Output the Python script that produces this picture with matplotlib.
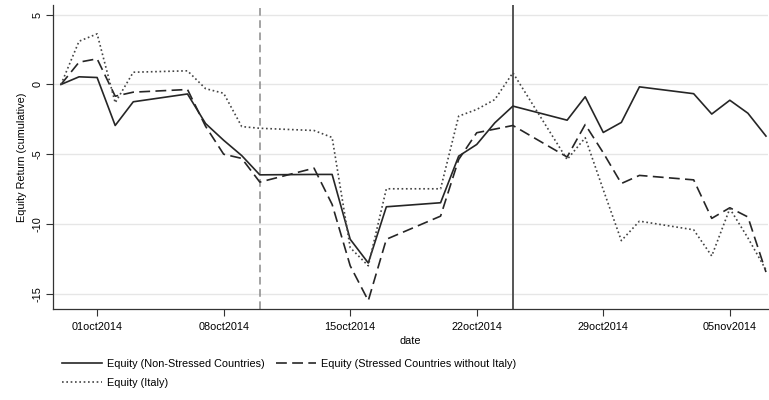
import matplotlib
matplotlib.use("Agg")
import matplotlib.pyplot as plt
import pandas as pd
import numpy as np

plt.rcParams['font.family'] = ['Liberation Sans', 'DejaVu Sans']

dates = ["2014-09-29", "2014-09-30", "2014-10-01", "2014-10-02", "2014-10-03",
         "2014-10-06", "2014-10-07", "2014-10-08", "2014-10-09", "2014-10-10",
         "2014-10-13", "2014-10-14", "2014-10-15", "2014-10-16", "2014-10-17",
         "2014-10-20", "2014-10-21", "2014-10-22", "2014-10-23", "2014-10-24",
         "2014-10-27", "2014-10-28", "2014-10-29", "2014-10-30", "2014-10-31",
         "2014-11-03", "2014-11-04", "2014-11-05", "2014-11-06", "2014-11-07"]

non_stressed = [0.0, 0.55, 0.5, -2.94, -1.24,
                -0.68, -2.8, -4.0, -5.1, -6.48,
                -6.45, -6.45, -11.1, -12.8, -8.77,
                -8.48, -5.14, -4.3, -2.75, -1.55,
                -2.56, -0.88, -3.44, -2.72, -0.17,
                -0.66, -2.12, -1.13, -2.06, -3.7]

stressed_ex_italy = [0.0, 1.6, 1.84, -0.84, -0.55,
                     -0.36, -3.0, -5.0, -5.3, -7.0,
                     -6.0, -8.6, -13.0, -15.5, -11.1,
                     -9.44, -5.38, -3.46, -3.2, -2.94,
                     -5.2, -2.87, -4.9, -7.1, -6.52,
                     -6.84, -9.6, -8.84, -9.5, -13.45]

italy = [0.0, 3.1, 3.63, -1.31, 0.88,
         0.98, -0.3, -0.63, -3.02, -3.14,
         -3.3, -3.8, -11.7, -13.0, -7.48,
         -7.48, -2.27, -1.79, -1.08, 0.84,
         -5.38, -3.82, -7.55, -11.2, -9.8,
         -10.42, -12.3, -8.9, -11.0, -13.3]

series_labels = ["Equity (Non-Stressed Countries)",
                 "Equity (Stressed Countries without Italy)",
                 "Equity (Italy)"]

tick_dates = ["2014-10-01", "2014-10-08", "2014-10-15", "2014-10-22", "2014-10-29", "2014-11-05"]
tick_labels = ["01oct2014", "08oct2014", "15oct2014", "22oct2014", "29oct2014", "05nov2014"]
y_ticks = [5, 0, -5, -10, -15]
event_dashed = "2014-10-10"
event_solid = "2014-10-24"

x = pd.to_datetime(dates)
fs = 7.8

fig = plt.figure(figsize=(7.69, 4.0), dpi=100)
ax = fig.add_axes([0.0685, 0.2275, 0.9305, 0.76])

line_col = "#262626"
ax.grid(axis='y', color='#e6e6e6', lw=1.0)
ax.set_axisbelow(True)

ax.axvline(pd.Timestamp(event_dashed), color='#8a8a8a', lw=1.1, ls=(0, (5, 3)))
ax.axvline(pd.Timestamp(event_solid), color='#555555', lw=1.4)

h1, = ax.plot(x, non_stressed, color=line_col, lw=1.2, ls='-')
h2, = ax.plot(x, stressed_ex_italy, color=line_col, lw=1.2, ls=(0, (6.5, 3.2)))
h3, = ax.plot(x, italy, color='#444444', lw=1.2, ls=(0, (1, 1.6)))

ax.set_ylim(-16.1, 5.7)
ax.set_xlim(pd.Timestamp("2014-09-28 13:00"), pd.Timestamp("2014-11-07 03:00"))

ax.set_yticks(y_ticks)
ax.set_yticklabels([str(v) for v in y_ticks], rotation=90, va='center', fontsize=fs)
ax.set_xticks(pd.to_datetime(tick_dates))
ax.set_xticklabels(tick_labels, fontsize=fs)
ax.tick_params(axis='both', length=5, width=0.8, color='#333333')
ax.tick_params(axis='x', pad=4)
ax.tick_params(axis='y', pad=2.5)

for s in ['top', 'right']:
    ax.spines[s].set_visible(False)
for s in ['left', 'bottom']:
    ax.spines[s].set_color('#333333')
    ax.spines[s].set_linewidth(0.9)

ax.set_ylabel("Equity Return (cumulative)", fontsize=fs, labelpad=4)
ax.set_xlabel("date", fontsize=fs, labelpad=3)

# column-major fill: col1 = Non-Stressed, Italy ; col2 = Stressed
leg = fig.legend([h1, h3, h2], [series_labels[0], series_labels[2], series_labels[1]],
                 loc='upper left', bbox_to_anchor=(0.0806, 0.103), ncol=2, frameon=False,
                 fontsize=fs, handlelength=3.7, handletextpad=0.5, columnspacing=1.0,
                 labelspacing=0.85, borderaxespad=0, borderpad=0)

fig.savefig("out.png", dpi=100, facecolor='white')
